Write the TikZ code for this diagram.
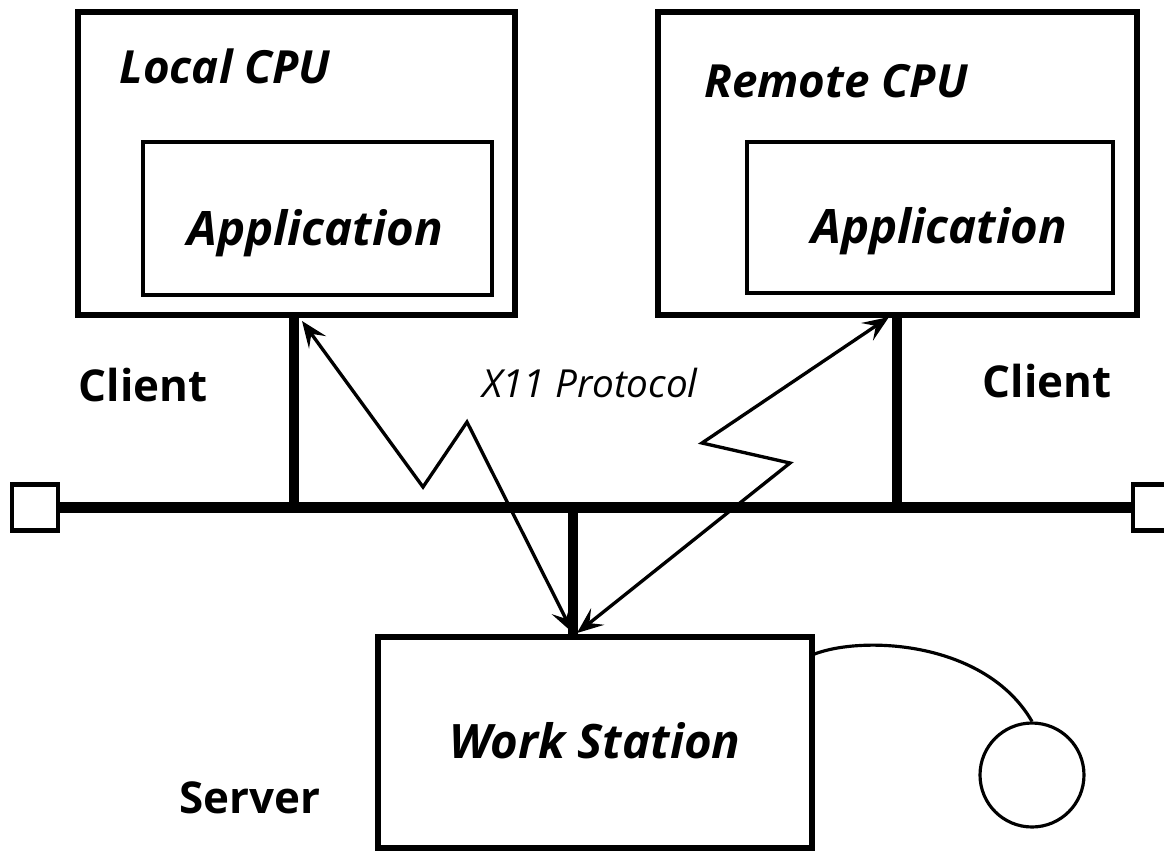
\documentclass[tikz,border=0pt]{standalone}
\usepackage{fontspec}
\setmainfont{Open Sans}
\usetikzlibrary{arrows.meta}
\begin{document}
\begin{tikzpicture}[x=0.02cm,y=-0.02cm,
  box/.style={draw, line width=3.3pt, inner sep=0pt},
  inbox/.style={draw, line width=2.2pt, inner sep=0pt},
  bus/.style={line width=6.2pt},
  stub/.style={line width=5.6pt},
  term/.style={draw, line width=2.3pt, fill=white, inner sep=0pt, minimum size=0.92cm},
  proto/.style={line width=1.9pt, line join=miter,
    {Stealth[length=15pt,width=12pt,inset=6pt]}-{Stealth[length=15pt,width=12pt,inset=6pt]}},
  ttl/.style={font=\fontsize{26}{30}\selectfont\bfseries\itshape, anchor=base, inner sep=0pt},
  big/.style={font=\fontsize{27}{31}\selectfont\bfseries\itshape, anchor=base, inner sep=0pt},
  lbl/.style={font=\fontsize{25}{30}\selectfont\bfseries, anchor=base, inner sep=0pt},
  ptxt/.style={font=\fontsize{22}{26}\selectfont\itshape, anchor=base, inner sep=0pt},
]
\useasboundingbox (0,0) rectangle (1164,850);

% CPU boxes
\node[box, minimum width=8.74cm, minimum height=6.06cm] (lo) at (296.5,163.5) {};
\node[inbox, minimum width=6.98cm, minimum height=3.06cm] (li) at (317.5,218.5) {};
\node[box, minimum width=9.58cm, minimum height=6.06cm] (ro) at (897.5,163.5) {};
\node[inbox, minimum width=7.32cm, minimum height=3.02cm] (ri) at (930,217.5) {};

% workstation
\node[box, minimum width=8.68cm, minimum height=4.22cm] (ws) at (595,742.5) {};
\node[draw, line width=1.8pt, circle, minimum size=2.08cm, inner sep=0pt] (mouse) at (1032,775) {};
\coordinate (cab) at (812,655);
\draw[line width=1.8pt] (cab) .. controls (860,635) and (985,640) .. (mouse.north);

% bus
\node[term] (lt) at (35,507.5) {};
\node[term] (rt) at (1156,507.5) {};
\draw[bus] (lt.east) -- (rt.west);

% stubs
\coordinate (ls1) at (294,315);
\coordinate (ls2) at (294,507.5);
\coordinate (rs1) at (897,315);
\coordinate (rs2) at (897,507.5);
\coordinate (ws1) at (573,507.5);
\coordinate (ws2) at (573,637);
\draw[stub] (ls1) -- (ls2);
\draw[stub] (rs1) -- (rs2);
\draw[stub] (ws1) -- (ws2);

% protocol arrows
\coordinate (a1s) at (302,321);
\coordinate (a1e) at (573,633);
\coordinate (a2s) at (889,317);
\coordinate (a2e) at (577,633);
\draw[proto] (a1s) -- (423,487) -- (467,422) -- (a1e);
\draw[proto] (a2s) -- (702,443) -- (790,463) -- (a2e);

% texts
\node[ttl] (tlocal) at (225,83) {Local CPU};
\node[ttl] (tremote) at (836,97) {Remote CPU};
\node[big] (tapp1) at (315,245) {Application};
\node[big] (tapp2) at (939,243) {Application};
\node[lbl] (tcl1) at (143,401) {Client};
\node[lbl] (tcl2) at (1047,397) {Client};
\node[ptxt] (tx11) at (590,397) {X11 Protocol};
\node[big] (tws) at (595,758) {Work Station};
\node[lbl] (tsrv) at (250,813) {Server};
\end{tikzpicture}
\end{document}
